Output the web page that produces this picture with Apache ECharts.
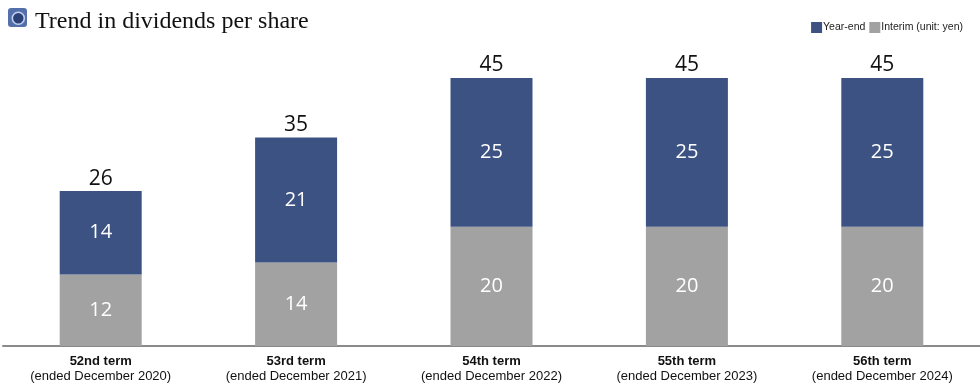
<!DOCTYPE html>
<html>
<head>
<meta charset="utf-8">
<script src="https://cdn.jsdelivr.net/npm/echarts@6/dist/echarts.min.js"></script>
<style>
  html, body { margin: 0; padding: 0; background: #fff; }
  #chart { width: 980px; height: 383px; }
</style>
</head>
<body>
<div id="chart"></div>
<script>
// 期ごとのデータ
const terms = ['52nd term', '53rd term', '54th term', '55th term', '56th term']
const periods = ['(ended December 2020)', '(ended December 2021)', '(ended December 2022)', '(ended December 2023)', '(ended December 2024)']
const interim = [12, 14, 20, 20, 20]
const yearEnd = [14, 21, 25, 25, 25]
const totals = [26, 35, 45, 45, 45]

const chart = echarts.init(document.getElementById('chart'))
chart.setOption({
  animation: false,
  title: {
    text: 'Trend in dividends per share',
    left: 30,
    top: 5,
    textStyle: {
      fontFamily: 'Liberation Serif',
      fontWeight: 'normal',
      fontSize: 24,
      color: '#111'
    }
  },
  graphic: [
    {
      type: 'rect',
      left: 8,
      top: 8,
      shape: { width: 19, height: 19, r: 3 },
      style: { fill: '#5470aa' }
    },
    {
      type: 'circle',
      left: 11.5,
      top: 11.5,
      shape: { r: 6 },
      style: { fill: '#2b4279', stroke: '#c3cfea', lineWidth: 1.6 }
    }
  ],
  legend: {
    right: 12,
    top: 17,
    itemWidth: 11,
    itemHeight: 11,
    itemGap: 4,
    icon: 'rect',
    textStyle: { fontFamily: 'Liberation Sans', fontSize: 10.5, color: '#222', padding: [0, 0, 0, -4] },
    data: ['Year-end', 'Interim (unit: yen)']
  },
  grid: {
    left: 3,
    right: 0,
    top: 60,
    bottom: 37,
    outerBoundsMode: 'none'
  },
  xAxis: {
    type: 'category',
    data: terms,
    axisLine: { lineStyle: { color: '#8a8a8a', width: 2 } },
    axisTick: { show: false },
    axisLabel: {
      interval: 0,
      margin: 8,
      formatter: (v, i) => '{b|' + v + '}\n{n|' + periods[i] + '}',
      rich: {
        b: { fontFamily: 'Liberation Sans', fontWeight: 'bold', fontSize: 13, color: '#111', lineHeight: 15 },
        n: { fontFamily: 'Liberation Sans', fontSize: 13, color: '#111', lineHeight: 15 }
      }
    }
  },
  yAxis: {
    type: 'value',
    min: 0,
    max: 48,
    show: false,
    splitLine: { show: false }
  },
  series: [
    {
      name: 'Interim (unit: yen)',
      type: 'bar',
      stack: 'div',
      barWidth: 82,
      data: interim,
      itemStyle: { color: '#a2a2a2' },
      label: {
        show: true,
        position: 'inside',
        color: '#fff',
        fontFamily: 'Open Sans',
        fontSize: 20
      }
    },
    {
      name: 'Year-end',
      type: 'bar',
      stack: 'div',
      barWidth: 82,
      data: yearEnd,
      itemStyle: { color: '#3c5283' },
      label: {
        show: true,
        position: 'inside',
        color: '#fff',
        fontFamily: 'Open Sans',
        fontSize: 20
      }
    },
    {
      // 合計ラベル用
      name: 'total',
      type: 'bar',
      stack: 'div',
      barWidth: 82,
      data: totals.map(() => 0),
      itemStyle: { color: 'transparent' },
      label: {
        show: true,
        position: 'top',
        distance: 2,
        formatter: p => totals[p.dataIndex],
        color: '#111',
        fontFamily: 'Open Sans',
        fontSize: 21
      }
    }
  ]
})
</script>
</body>
</html>
